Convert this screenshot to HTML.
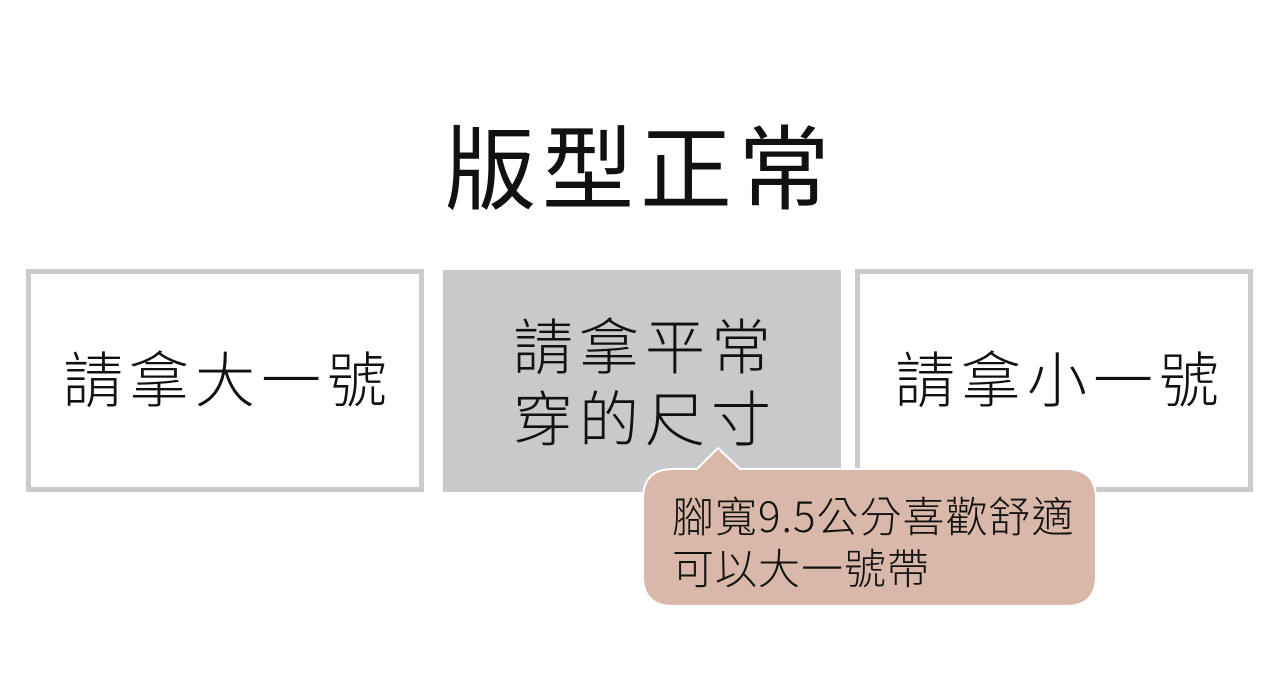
<!DOCTYPE html>
<html><head><meta charset="utf-8"><style>
body{margin:0;width:1280px;height:678px;background:#fff;position:relative;overflow:hidden;font-family:"Noto Sans CJK TC","Liberation Sans",sans-serif;}
.t{position:absolute;white-space:nowrap;color:#111;}
.box{position:absolute;box-sizing:border-box;}
</style></head><body>
<div class="t" style="left:0;width:1280px;text-align:center;top:103px;font-size:92px;line-height:120px;font-weight:400;letter-spacing:6px;">版型正常</div>
<div class="box" style="left:26px;top:269px;width:398px;height:223px;border:5px solid #cbcbcb;"></div>
<div class="box" style="left:443px;top:270px;width:398px;height:222px;background:#c8c9cb;"></div>
<div class="box" style="left:855px;top:269px;width:398px;height:223px;border:5px solid #cbcbcb;"></div>
<div class="t" style="left:29px;width:398px;text-align:center;top:339px;font-size:60px;line-height:76px;font-weight:300;letter-spacing:6px;">請拿大一號</div>
<div class="t" style="left:446px;width:398px;text-align:center;top:308px;font-size:60px;line-height:72px;font-weight:300;letter-spacing:6px;">請拿平常<br>穿的尺寸</div>
<div class="t" style="left:861px;width:398px;text-align:center;top:339px;font-size:60px;line-height:76px;font-weight:300;letter-spacing:6px;">請拿小一號</div>
<svg style="position:absolute;left:0;top:0" width="1280" height="678">
<path d="M673,469 L697,469 L718,448 L740,469 L1066,469 Q1096,469 1096,499 L1096,576 Q1096,606 1066,606 L673,606 Q643,606 643,576 L643,499 Q643,469 673,469 Z" fill="#d9b8aa" stroke="#fff" stroke-width="2"/>
</svg>
<div class="t" style="left:672px;top:489px;font-size:42px;line-height:52px;font-weight:300;letter-spacing:1px;">腳寬9.5公分喜歡舒適<br>可以大一號帶</div>
</body></html>
